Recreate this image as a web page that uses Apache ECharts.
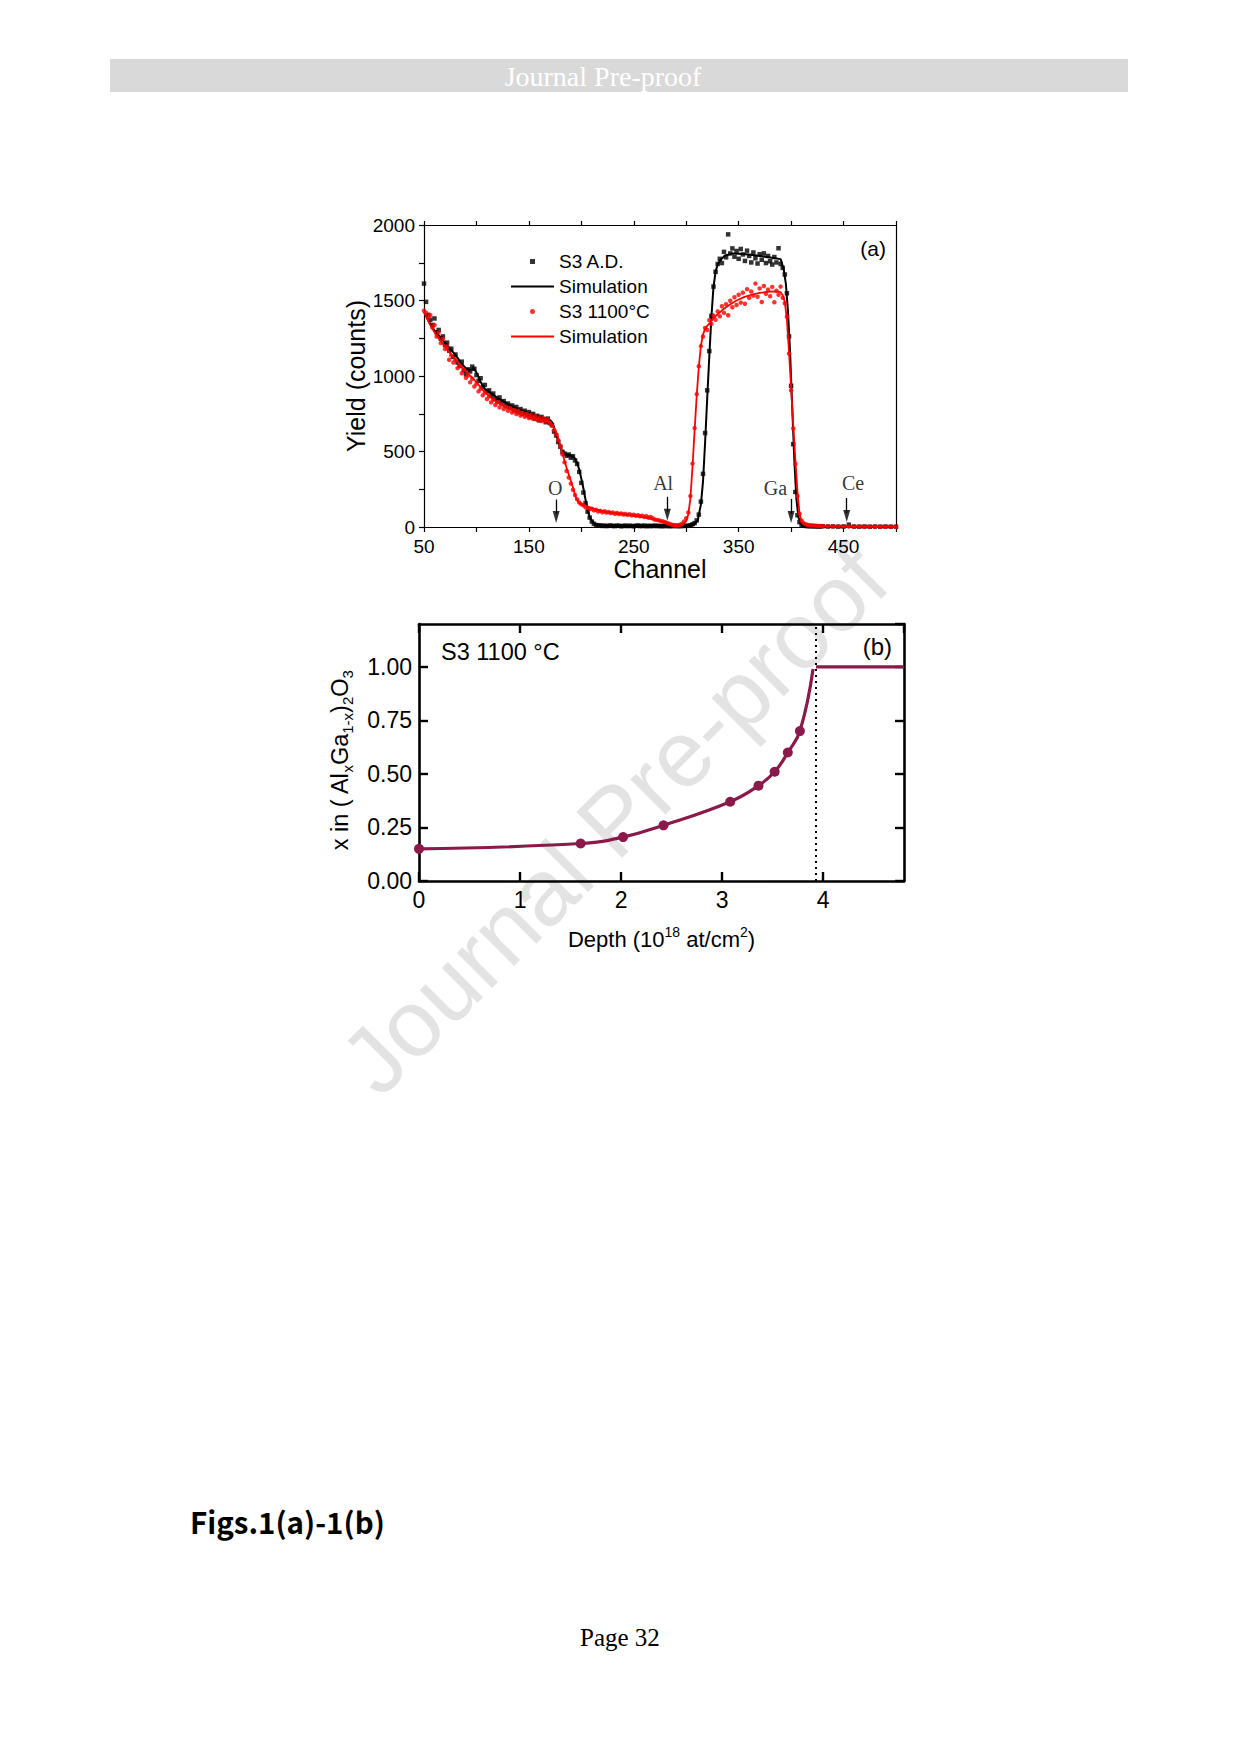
<!DOCTYPE html>
<html><head><meta charset="utf-8">
<script src="https://cdn.jsdelivr.net/npm/echarts@6/dist/echarts.min.js"></script>
<style>html,body{margin:0;padding:0;background:#fff}#c{width:1240px;height:1755px}</style>
</head><body><div id="c"></div>
<script>
// ---------- Fig. 1(a): RBS spectra ----------
const scatterChannel = [
50,52,54,56,58,60,62,64,66,68,
70,72,74,76,78,80,82,84,86,88,
90,92,94,96,98,100,102,104,106,108,
110,112,114,116,118,120,122,124,126,128,
130,132,134,136,138,140,142,144,146,148,
150,152,154,156,158,160,162,164,166,168,
170,172,174,176,178,180,182,184,186,188,
190,192,194,196,198,200,202,204,206,208,
210,212,214,216,218,220,222,224,226,228,
230,232,234,236,238,240,242,244,246,248,
250,252,254,256,258,260,262,264,266,268,
270,272,274,276,278,280,282,284,286,288,
290,292,294,296,298,300,302,304,306,308,
310,312,314,316,318,320,322,324,326,328,
330,332,334,336,338,340,342,344,346,348,
350,352,354,356,358,360,362,364,366,368,
370,372,374,376,378,380,382,384,386,388,
390,392,394,396,398,400,402,404,406,408,
410,412,414,416,418,420,422,424,426,428,
430,
435,440,445,450,455,460,465,470,475,480,485,490,495,500];

const asDepositedYield = [
1612,1491,1405,1372,1338,1381,1290,1305,1248,1262,
1205,1221,1168,1181,1126,1142,1089,1066,1095,1038,
1012,1044,1030,1062,1048,1006,968,985,926,941,
897,905,868,884,851,836,858,822,834,803,
818,790,805,772,795,760,781,748,770,742,
761,728,749,718,736,706,729,712,694,718,
688,676,632,606,563,532,498,486,472,480,
459,468,441,418,365,292,228,158,101,62,
36,21,13,9,11,7,9,6,8,10,
7,6,9,8,5,7,9,6,8,7,
5,8,10,6,7,9,5,8,6,7,
9,6,8,5,7,6,8,5,7,6,
8,5,7,6,8,7,9,12,18,26,
44,82,168,352,622,905,1165,1398,1592,1690,
1742,1776,1748,1822,1786,1938,1812,1845,1790,1828,
1776,1841,1805,1762,1830,1795,1752,1818,1780,1745,
1806,1770,1812,1748,1795,1760,1738,1788,1752,1846,
1742,1716,1672,1548,1262,935,548,232,78,32,
15,9,7,6,5,6,4,5,3,4,
5,
3,4,2,3,15,3,2,3,2,3,2,3,2,2];

const annealedYield = [
1432,1418,1385,1402,1321,1338,1262,1289,1218,1245,
1178,1196,1108,1135,1089,1105,1052,1070,1018,1042,
988,1003,958,982,930,948,898,915,872,890,
848,866,825,842,808,826,792,812,781,798,
770,788,758,776,748,769,738,755,730,748,
722,741,716,733,708,726,702,720,698,712,
689,671,640,612,574,533,482,428,371,328,
287,246,212,183,162,150,143,131,127,119,
122,110,114,103,107,98,104,95,99,92,
96,88,93,86,90,83,87,80,84,77,
81,74,78,71,75,67,72,63,66,58,
50,47,44,40,36,32,26,21,16,12,
9,10,15,22,36,58,96,205,420,655,
880,1065,1198,1262,1318,1305,1370,1345,1400,1372,
1428,1396,1462,1418,1475,1402,1498,1455,1522,1470,
1538,1486,1552,1478,1575,1518,1560,1532,1612,1525,
1580,1490,1596,1545,1572,1528,1590,1488,1565,1538,
1592,1518,1482,1392,1148,905,652,418,205,88,
42,26,18,14,12,10,9,8,7,7,
6,
5,5,4,4,3,3,3,2,2,2,2,2,2,2];

const asDepositedSimChannel = [50,55,60,65,70,75,80,85,90,94,98,101,104,108,114,120,130,140,150,160,170,172,174,176,178,181,184,187,191,194,196,198,200,202,204,206,208,211,214,220,240,260,280,300,305,308,311,314,316,318,320,322,324,326,328,330,333,337,345,355,365,375,385,390,393,395,397,399,401,403,405,407,410,415,420,440,460,480,500];
const asDepositedSimYield = [1425,1355,1300,1262,1220,1180,1140,1090,1050,1042,1046,1010,960,915,885,856,812,780,755,730,709,695,660,610,570,511,485,476,475,452,425,380,320,255,180,115,65,32,18,10,8,7,7,7,10,18,45,150,300,560,850,1130,1390,1590,1690,1740,1772,1798,1812,1808,1800,1790,1780,1774,1705,1610,1430,1160,800,455,190,62,15,8,5,4,3,3,3];

const annealedSimChannel = [50,55,60,65,70,75,80,85,90,95,100,105,110,115,120,130,140,150,160,168,171,174,177,180,183,186,189,192,195,198,202,206,212,220,230,240,250,260,270,278,284,288,291,294,297,300,302,304,306,308,310,312,314,316,318,320,323,326,330,336,342,348,355,362,370,378,386,390,392,394,396,398,400,402,404,406,408,410,413,418,425,440,460,480,500];
const annealedSimYield = [1425,1350,1290,1240,1195,1150,1110,1070,1030,995,960,915,880,850,825,785,755,728,712,702,690,655,615,535,462,390,328,262,192,160,146,135,120,106,93,84,75,64,48,34,22,15,10,9,18,40,85,190,400,640,870,1060,1200,1275,1312,1332,1355,1382,1410,1445,1475,1500,1522,1538,1550,1558,1560,1555,1535,1490,1370,1160,920,680,450,240,90,35,18,10,6,4,3,3,3];

// surface-edge markers: arrow channel, arrow top/tip yields, label position
const edgeLabel = ['O','Al','Ga','Ce'];
const edgeChannel = [176,282,400,453];
const edgeTop = [182,200,186,192];
const edgeTip = [26,42,26,33];
const edgeLabelChannel = [175,278,385,459];
const edgeLabelYield = [258,294,258,294];

// ---------- Fig. 1(b): Al fraction profile ----------
const depth = [0,1.60,2.02,2.42,3.08,3.36,3.52,3.65,3.77,3.90];
const alFraction = [0.15,0.175,0.205,0.26,0.37,0.445,0.51,0.60,0.70,0.99];
const plateauDepth = [3.93,4.8];
const plateauFraction = [1.0,1.0];
const interfaceDepth = 3.93;

// ---------- build ----------
const pairs = (xs, ys) => xs.map((x, i) => [x, ys[i]]);
const SANS = '"Liberation Sans", Arial, sans-serif';
const SERIF = '"Liberation Serif", "Times New Roman", serif';
const MAROON = '#8b1a4b';

const chart = echarts.init(document.getElementById('c'), null, {renderer: 'svg'});

const axA = {
  axisLine: {onZero: false, lineStyle: {color: '#000', width: 1.2}},
  splitLine: {show: false}
};
const axB = {
  axisLine: {onZero: false, lineStyle: {color: '#000', width: 2.6}},
  axisTick: {inside: true, length: 9, lineStyle: {color: '#000', width: 2.4}},
  splitLine: {show: false}
};

const curveData = depth.map((d, i) => i === depth.length - 1
  ? {value: [d, alFraction[i]], symbol: 'none'} : [d, alFraction[i]]);

const nameRich = {
  n: {fontFamily: SANS, fontSize: 22, lineHeight: 28, color: '#000'},
  sub: {fontFamily: SANS, fontSize: 14, lineHeight: 14, verticalAlign: 'bottom', color: '#000'},
  sup: {fontFamily: SANS, fontSize: 14, lineHeight: 14, verticalAlign: 'top', color: '#000'}
};
const nameRichY = {
  n: {fontFamily: SANS, fontSize: 23.5, lineHeight: 30, color: '#000'},
  sub: {fontFamily: SANS, fontSize: 15, lineHeight: 15, verticalAlign: 'bottom', color: '#000'}
};

chart.setOption({
  animation: false,
  backgroundColor: '#fff',
  grid: [
    {left: 424, top: 225, width: 472, height: 302},
    {left: 419, top: 624, width: 485, height: 257}
  ],
  legend: {
    orient: 'vertical', left: 506, top: 247, itemWidth: 43, itemHeight: 5, itemGap: 6,
    selectedMode: false,
    textStyle: {fontFamily: SANS, fontSize: 19, color: '#000', lineHeight: 19},
    formatter: n => n.indexOf('Simulation') === 0 ? 'Simulation' : n,
    data: [
      {name: 'S3 A.D.', icon: 'path://M0,0L10,0L10,10L0,10Z'},
      {name: 'Simulation (A.D.)', icon: 'path://M0,0L43,0L43,2.2L0,2.2Z'},
      {name: 'S3 1100°C', icon: 'path://M5,0A5,5 0 1 1 5,10A5,5 0 1 1 5,0Z'},
      {name: 'Simulation (1100°C)', icon: 'path://M0,0L43,0L43,1.8L0,1.8Z'}
    ]
  },
  xAxis: [
    Object.assign({}, axA, {gridIndex: 0, type: 'value', min: 50, max: 500, interval: 50, position: 'bottom',
      axisTick: {length: 5, lineStyle: {color: '#000', width: 1.2}},
      axisLabel: {margin: 10, fontFamily: SANS, fontSize: 19, color: '#000',
        formatter: v => ((v - 50) % 100 === 0 ? String(v) : '')},
      name: 'Channel', nameLocation: 'middle', nameGap: 27,
      nameTextStyle: {fontFamily: SANS, fontSize: 25, color: '#000'}}),
    Object.assign({}, axA, {gridIndex: 0, type: 'value', min: 50, max: 500, interval: 50, position: 'top',
      axisTick: {length: 4, lineStyle: {color: '#000', width: 1.2}}, axisLabel: {show: false}}),
    Object.assign({}, axB, {gridIndex: 1, type: 'value', min: 0, max: 4.8, interval: 1, position: 'bottom',
      axisLabel: {margin: 7, fontFamily: SANS, fontSize: 23, color: '#000', showMaxLabel: false},
      name: '{n|Depth (10}{sup|18}{n| at/cm}{sup|2}{n|)}', nameLocation: 'middle', nameGap: 44,
      nameTextStyle: {fontFamily: SANS, fontSize: 22, color: '#000', lineHeight: 28, rich: nameRich}}),
    Object.assign({}, axB, {gridIndex: 1, type: 'value', min: 0, max: 4.8, interval: 1, position: 'top',
      axisLabel: {show: false}})
  ],
  yAxis: [
    Object.assign({}, axA, {gridIndex: 0, type: 'value', min: 0, max: 2000, interval: 250, position: 'left',
      axisTick: {length: 5, lineStyle: {color: '#000', width: 1.2}},
      axisLabel: {margin: 9, fontFamily: SANS, fontSize: 19, color: '#000',
        formatter: v => (v % 500 === 0 ? String(v) : '')},
      name: 'Yield (counts)', nameLocation: 'middle', nameGap: 55,
      nameTextStyle: {fontFamily: SANS, fontSize: 25, color: '#000'}}),
    Object.assign({}, axA, {gridIndex: 0, type: 'value', min: 0, max: 2000, interval: 250, position: 'right',
      axisTick: {show: false}, axisLabel: {show: false}}),
    Object.assign({}, axB, {gridIndex: 1, type: 'value', min: 0, max: 1.2, interval: 0.25, position: 'left',
      axisLabel: {margin: 7, fontFamily: SANS, fontSize: 23, color: '#000', showMaxLabel: false,
        formatter: v => v.toFixed(2)},
      name: '{n|x in ( Al}{sub|x}{n|Ga}{sub|1-x}{n|)}{sub|2}{n|O}{sub|3}', nameLocation: 'middle', nameGap: 64,
      nameTextStyle: {fontFamily: SANS, fontSize: 23.5, color: '#000', lineHeight: 30, padding: [0, 16, 0, 0], rich: nameRichY}}),
    Object.assign({}, axB, {gridIndex: 1, type: 'value', min: 0, max: 1.2, interval: 0.25, position: 'right',
      axisLabel: {show: false}})
  ],
  series: [
    {name: 'S3 A.D.', type: 'scatter', xAxisIndex: 0, yAxisIndex: 0, symbol: 'rect', symbolSize: 4.5,
      itemStyle: {color: '#000'}, data: pairs(scatterChannel, asDepositedYield), z: 2},
    {name: 'Simulation (A.D.)', type: 'line', xAxisIndex: 0, yAxisIndex: 0, symbol: 'none', showSymbol: false,
      lineStyle: {color: '#000', width: 2}, itemStyle: {color: '#000'},
      data: pairs(asDepositedSimChannel, asDepositedSimYield), z: 3},
    {name: 'S3 1100°C', type: 'scatter', xAxisIndex: 0, yAxisIndex: 0, symbol: 'circle', symbolSize: 4.5,
      itemStyle: {color: '#ff0000'}, data: pairs(scatterChannel, annealedYield), z: 4},
    {name: 'Simulation (1100°C)', type: 'line', xAxisIndex: 0, yAxisIndex: 0, symbol: 'none', showSymbol: false,
      lineStyle: {color: '#ff0000', width: 1.8}, itemStyle: {color: '#ff0000'},
      data: pairs(annealedSimChannel, annealedSimYield), z: 5},
    {name: 'edge arrows', type: 'scatter', xAxisIndex: 0, yAxisIndex: 0, silent: true,
      symbol: 'triangle', symbolRotate: 180, symbolSize: [7, 12], symbolOffset: [0, -6],
      itemStyle: {color: '#000'}, data: pairs(edgeChannel, edgeTip), z: 6,
      markLine: {
        silent: true, animation: false, symbol: 'none', label: {show: false},
        lineStyle: {color: '#000', width: 1.3, type: 'solid'},
        data: edgeChannel.map((c, i) => [{coord: [c, edgeTop[i]]}, {coord: [c, edgeTip[i] + 60]}])
      }},
    {name: 'edge labels', type: 'scatter', xAxisIndex: 0, yAxisIndex: 0, silent: true,
      symbolSize: 1, itemStyle: {color: 'rgba(0,0,0,0)'}, z: 6,
      label: {show: true, position: 'inside', formatter: '{b}', color: '#000', fontFamily: SERIF, fontSize: 20},
      data: edgeLabelChannel.map((c, i) => ({name: edgeLabel[i], value: [c, edgeLabelYield[i]]}))},
    {name: 'x profile', type: 'line', xAxisIndex: 2, yAxisIndex: 2, smooth: 0.45,
      symbol: 'circle', symbolSize: 10, showSymbol: true, clip: false,
      lineStyle: {color: MAROON, width: 3.2}, itemStyle: {color: MAROON},
      data: curveData, z: 5},
    {name: 'x plateau', type: 'line', xAxisIndex: 2, yAxisIndex: 2, symbol: 'none', showSymbol: false,
      lineStyle: {color: MAROON, width: 3.2}, itemStyle: {color: MAROON},
      data: pairs(plateauDepth, plateauFraction), z: 5,
      markLine: {silent: true, animation: false, symbol: 'none', label: {show: false},
        lineStyle: {color: '#000', width: 2, type: [2, 4]},
        data: [{xAxis: interfaceDepth}]}}
  ],
  graphic: [
    {type: 'text', z: -100, x: 614, y: 820, rotation: Math.PI / 4,
      style: {text: 'Journal Pre-proof', font: '94px ' + SANS, fill: '#e3e3e3',
        align: 'center', verticalAlign: 'middle'}},
    {type: 'rect', z: 1, shape: {x: 110, y: 59, width: 1018, height: 33}, style: {fill: '#d9d9d9'}},
    {type: 'text', z: 2, x: 603, y: 76,
      style: {text: 'Journal Pre-proof', font: '28px ' + SERIF, fill: '#ffffff', align: 'center', verticalAlign: 'middle'}},
    {type: 'text', z: 10, x: 886, y: 248,
      style: {text: '(a)', font: '21px ' + SANS, fill: '#000', align: 'right', verticalAlign: 'middle'}},
    {type: 'text', z: 10, x: 441, y: 652,
      style: {text: 'S3 1100 °C', font: '23.5px ' + SANS, fill: '#000', align: 'left', verticalAlign: 'middle'}},
    {type: 'text', z: 10, x: 892, y: 646,
      style: {text: '(b)', font: '24px ' + SANS, fill: '#000', align: 'right', verticalAlign: 'middle'}},
    {type: 'text', z: 10, x: 190, y: 1521,
      style: {text: 'Figs.1(a)-1(b)', font: 'bold 29.5px "Noto Sans CJK SC", "Noto Sans", sans-serif', fill: '#000',
        align: 'left', verticalAlign: 'middle'}},
    {type: 'text', z: 10, x: 580, y: 1637,
      style: {text: 'Page 32', font: '25px ' + SERIF, fill: '#000', align: 'left', verticalAlign: 'middle'}}
  ]
});
</script>
</body></html>
